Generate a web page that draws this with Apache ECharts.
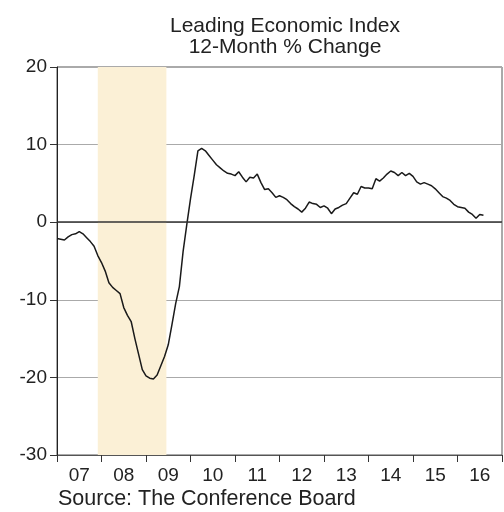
<!DOCTYPE html>
<html>
<head>
<meta charset="utf-8">
<script src="https://cdn.jsdelivr.net/npm/echarts@6/dist/echarts.min.js"></script>
<style>
  html, body { margin: 0; padding: 0; background: #fff; }
  #chart { width: 504px; height: 512px; }
</style>
</head>
<body>
<div id="chart"></div>
<script>
// monthly 12-month % change, starting Jan 2007
const startYear = 2007;
const leiChange = [
  -2.1, -2.2, -2.3, -1.9, -1.6, -1.5, -1.2, -1.5, -2.0, -2.5, -3.1, -4.3,
  -5.2, -6.3, -7.8, -8.4, -8.8, -9.2, -11.0, -12.0, -12.8, -15.0, -17.0, -19.0,
  -19.8, -20.1, -20.2, -19.7, -18.5, -17.3, -15.8, -13.2, -10.5, -8.3, -3.8, -0.3,
  3.0, 6.0, 9.2, 9.5, 9.2, 8.6, 8.0, 7.4, 7.0, 6.6, 6.3, 6.2,
  6.0, 6.5, 5.8, 5.2, 5.8, 5.7, 6.2, 5.1, 4.2, 4.3, 3.8, 3.2,
  3.4, 3.2, 2.9, 2.4, 2.0, 1.7, 1.3, 1.8, 2.6, 2.4, 2.3, 1.9,
  2.1, 1.8, 1.1, 1.7, 1.9, 2.2, 2.4, 3.1, 3.8, 3.6, 4.6, 4.4,
  4.4, 4.3, 5.6, 5.3, 5.7, 6.2, 6.6, 6.4, 6.0, 6.4, 6.0, 6.3,
  5.9, 5.2, 4.9, 5.1, 4.9, 4.7, 4.3, 3.8, 3.3, 3.1, 2.8, 2.3,
  2.0, 1.9, 1.8, 1.3, 1.0, 0.5, 1.0, 0.9
];
const yearLabels = ['07', '08', '09', '10', '11', '12', '13', '14', '15', '16'];
// recession: Dec 2007 - Jun 2009
const recession = [2007 + 11 / 12, 2009 + 5.5 / 12];

const font = 'Liberation Sans, Arial, sans-serif';
const chart = echarts.init(document.getElementById('chart'));

chart.setOption({
  animation: false,
  title: {
    text: 'Leading Economic Index\n12-Month % Change',
    left: 280,
    textAlign: 'center',
    top: 11,
    textStyle: { fontFamily: font, fontSize: 21, fontWeight: 'normal', color: '#222', lineHeight: 21 }
  },
  graphic: [{
    type: 'text',
    left: 58,
    top: 488,
    style: { text: 'Source: The Conference Board', font: '21.5px ' + font, fill: '#222' }
  }],
  grid: { left: 57, right: 2, top: 67, bottom: 57, show: true, borderColor: '#555', borderWidth: 1 },
  xAxis: [{
    type: 'value',
    min: 2007,
    max: 2017,
    interval: 1,
    axisLine: { show: true, onZero: false, lineStyle: { color: '#555' } },
    axisTick: { show: true, length: 7, lineStyle: { color: '#333' } },
    axisLabel: { show: false },
    splitLine: { show: false }
  }, {
    type: 'category',
    data: yearLabels,
    position: 'bottom',
    boundaryGap: true,
    axisLine: { show: false },
    axisTick: { show: false },
    axisLabel: { fontFamily: font, fontSize: 19, color: '#222', margin: 11 }
  }],
  yAxis: {
    type: 'value',
    min: -30,
    max: 20,
    interval: 10,
    axisLine: { show: true, lineStyle: { color: '#222' } },
    axisTick: { show: true, length: 7, lineStyle: { color: '#333' } },
    axisLabel: { fontFamily: font, fontSize: 19, color: '#222', margin: 10 },
    splitLine: { show: true, lineStyle: { color: '#aaa', width: 1 } }
  },
  series: [{
    type: 'line',
    xAxisIndex: 0,
    showSymbol: false,
    data: leiChange.map((v, i) => [startYear + i / 12, v]),
    lineStyle: { color: '#1a1a1a', width: 1.5 },
    markArea: {
      silent: true,
      itemStyle: { color: '#fbf0d6' },
      data: [[{ xAxis: recession[0] }, { xAxis: recession[1] }]]
    },
    markLine: {
      silent: true,
      symbol: 'none',
      label: { show: false },
      lineStyle: { color: '#333', width: 1.5, type: 'solid' },
      data: [{ yAxis: 0 }]
    },
    z: 3
  }]
});
</script>
</body>
</html>
